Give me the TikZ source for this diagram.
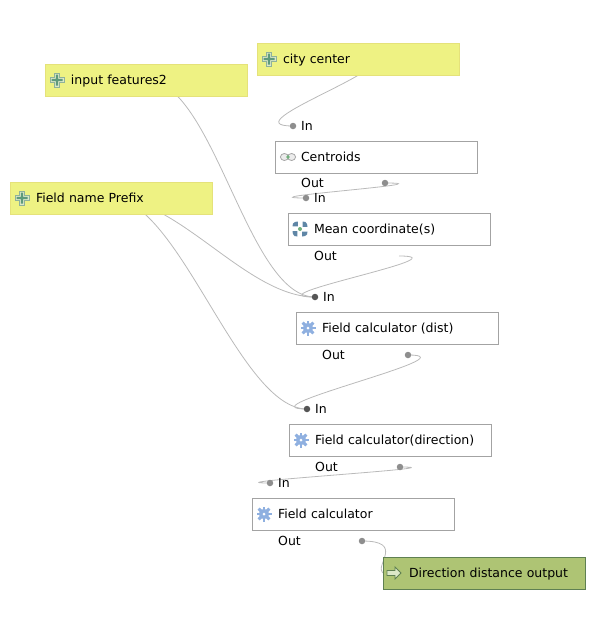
\documentclass[tikz,border=0pt]{standalone}
\usepackage{fontspec}
\setmainfont{DejaVu Sans}
\usetikzlibrary{positioning,backgrounds}
\definecolor{paramfill}{HTML}{EEF283}
\definecolor{paramline}{HTML}{E5E27A}
\definecolor{outfill}{HTML}{AEC474}
\definecolor{outline}{HTML}{5F8052}
\definecolor{algoline}{HTML}{A3A3A3}
\definecolor{wire}{HTML}{BABABA}
\definecolor{portgray}{HTML}{8E8E8E}
\definecolor{portdark}{HTML}{555555}
\definecolor{geargray}{HTML}{8FB0E0}
\definecolor{plusrim}{HTML}{8FB29A}
\definecolor{plusfill}{HTML}{DCE8C8}
\definecolor{pluscore}{HTML}{5E9A7B}
\definecolor{meangray}{HTML}{5F86A6}
\definecolor{dotgreen}{HTML}{6FAF7A}
\tikzset{
    plusicon/.pic={
        \draw[fill=plusfill, draw=plusrim, line width=1pt] (-2.5,-7) -- (2.5,-7) -- (2.5,-2.5) -- (7,-2.5) -- (7,2.5) -- (2.5,2.5) -- (2.5,7) -- (-2.5,7) -- (-2.5,2.5) -- (-7,2.5) -- (-7,-2.5) -- (-2.5,-2.5) -- cycle;
        \fill[pluscore] (-1.1,-5.5) rectangle (1.1,5.5) (-5.5,-1.1) rectangle (5.5,1.1);
    },
    gearicon/.pic={
        \foreach \ang in {0,45,...,315}
            \fill[geargray, rotate=\ang] (-1.4,-7.5) rectangle (1.4,7.5);
        \fill[geargray] (0,0) circle (5.2);
        \fill[white] (0,0) circle (1.5);
    },
    linkicon/.pic={
        \draw[fill=gray!15, draw=gray!70, line width=0.8pt] (-3.6,0) ellipse (4 and 3.5) (3.6,0) ellipse (4 and 3.5);
        \fill[dotgreen] (0,0) circle (1.8);
    },
    meanicon/.pic={
        \foreach \ang in {0,90,180,270}
            \fill[meangray, rotate=\ang] (2.2,2.6) -- (7.5,2.6) -- (7,5.5) -- (5,7) -- (2.2,7.5) -- cycle;
        \fill[dotgreen] (0,0) circle (2);
    },
    arrowicon/.pic={
        \draw[fill=plusfill, draw=outline, line width=0.8pt] (-7,-2.5) -- (1,-2.5) -- (1,-6) -- (7,0) -- (1,6) -- (1,2.5) -- (-7,2.5) -- cycle;
    }
}
\begin{document}
\begin{tikzpicture}[x=1pt, y=-1pt, every node/.style={font=\fontsize{12.5pt}{14pt}\selectfont}]
    \tikzset{
        modbox/.style={rectangle, draw, line width=0.8pt, minimum height=32pt, text width=202pt, inner xsep=0pt, inner ysep=0pt, text height=12pt, text depth=2.5pt, execute at begin node={\hspace*{26pt}}},
        parambox/.style={modbox, fill=paramfill, draw=paramline},
        algobox/.style={modbox, fill=white, draw=algoline},
        outbox/.style={modbox, fill=outfill, draw=outline},
        port/.style={circle, fill=portgray, minimum size=6.5pt, inner sep=0pt},
        hubport/.style={port, fill=portdark},
        lab/.style={inner sep=0pt, anchor=base west},
        wireline/.style={draw=wire, line width=0.8pt},
        bow/.style={to path={.. controls +(68,0) and +(-68,0) .. (\tikztotarget)}}
    }
    \useasboundingbox (0,0) rectangle (595,630);
    % boxes
    \node[parambox] (features) at (146,80) {input features2};
    \node[parambox] (city) at (358,59) {city center};
    \node[parambox] (prefix) at (111,198) {Field name Prefix};
    \node[algobox] (centroids) at (376,157) {Centroids};
    \node[algobox] (mean) at (389,229) {Mean coordinate(s)};
    \node[algobox] (dist) at (397,328) {Field calculator (dist)};
    \node[algobox] (direction) at (390,440) {Field calculator(direction)};
    \node[algobox] (calc) at (353,514) {Field calculator};
    \node[outbox] (result) at (484,573) {Direction distance output};
    % ports
    \node[port] (in1) at (293,126) {};
    \node[port] (in2) at (306,198) {};
    \node[hubport] (in3) at (315,297) {};
    \node[hubport] (in4) at (307,409) {};
    \node[port] (in5) at (270,483) {};
    \node[port] (out1) at (385,183) {};
    \coordinate (out2) at (399,256);
    \node[port] (out3) at (408,355) {};
    \node[port] (out4) at (400,467) {};
    \node[port] (out5) at (362,541) {};
    % port labels
    \node[lab] at (301,130) {In};
    \node[lab] at (314,202) {In};
    \node[lab] at (323,301) {In};
    \node[lab] at (315,413.5) {In};
    \node[lab] at (278,487.5) {In};
    \node[lab] at (301,187.5) {Out};
    \node[lab] at (314,260) {Out};
    \node[lab] at (322,359) {Out};
    \node[lab] at (315,471) {Out};
    \node[lab] at (278,545) {Out};
    % icons
    \pic at (57,80) {plusicon};
    \pic at (269,59) {plusicon};
    \pic at (22,198) {plusicon};
    \pic at (288,157) {linkicon};
    \pic at (300,229) {meanicon};
    \pic at (308,328) {gearicon};
    \pic at (301,440) {gearicon};
    \pic at (264,514) {gearicon};
    \pic at (394,573) {arrowicon};
    % connectors, behind the boxes
    \begin{scope}[on background layer]
        \draw[wireline] (city.center) to[bow] (in1.center);
        \draw[wireline] (out1.center) to[bow] (in2.center);
        \draw[wireline] (out2) to[bow] (in3.center);
        \draw[wireline] (features.center) to[bow] (in3.center);
        \draw[wireline] (prefix.center) to[bow] (in3.center);
        \draw[wireline] (prefix.center) to[bow] (in4.center);
        \draw[wireline] (out3.center) to[bow] (in4.center);
        \draw[wireline] (out4.center) to[bow] (in5.center);
        \draw[wireline] (out5.center) .. controls +(43,0) and +(-8,-8) .. (result.west);
    \end{scope}
\end{tikzpicture}
\end{document}
